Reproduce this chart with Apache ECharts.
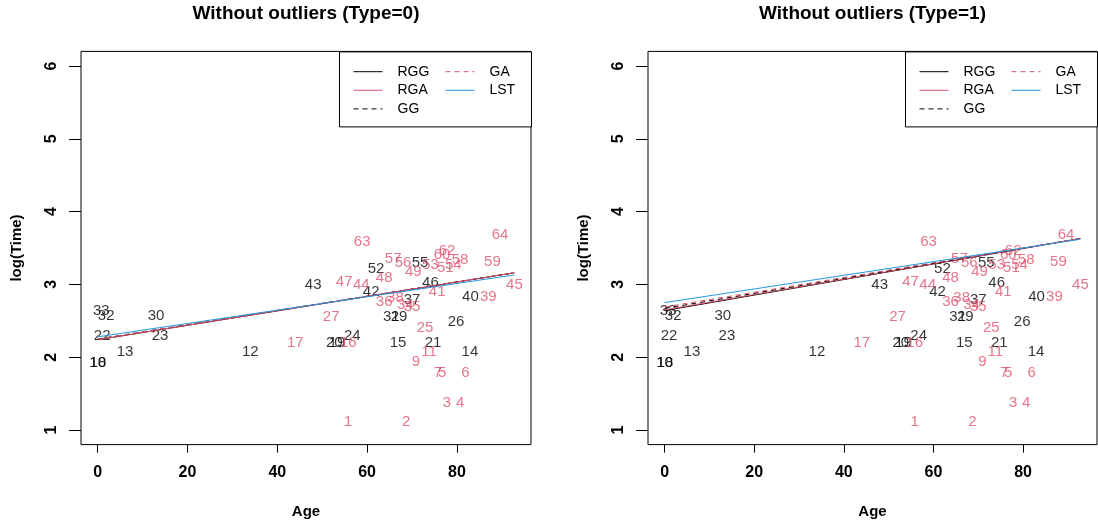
<!DOCTYPE html>
<html>
<head>
<meta charset="utf-8">
<script src="https://cdn.jsdelivr.net/npm/echarts@6/dist/echarts.min.js"></script>
<style>html,body{margin:0;padding:0;background:#fff}#c{width:1098px;height:527px}</style>
</head>
<body>
<div id="c"></div>
<script>
// ---- data ----
const ids = [1,2,3,4,5,6,7,9,10,11,12,13,14,15,16,17,18,19,20,21,22,23,24,25,26,27,29,30,31,32,33,34,35,36,37,38,39,40,41,42,43,44,45,46,47,48,49,51,52,53,54,55,56,57,58,59,60,62,63,64];
const ages = [55.8,68.7,77.8,80.7,76.7,81.9,75.8,70.9,0.0,73.8,34.0,6.1,82.9,66.9,55.8,44.0,0.1,53.3,52.7,74.7,1.0,13.9,56.7,72.9,79.8,52.0,67.1,13.0,65.4,1.9,0.8,68.5,70.0,63.8,70.0,66.3,87.0,83.0,75.6,60.9,48.0,58.7,92.8,74.1,54.9,63.8,70.3,77.4,62.0,74.1,79.2,71.8,68.0,65.8,80.7,87.9,76.7,77.8,58.9,89.6];
const logTimes = [1.11,1.11,1.38,1.38,1.78,1.78,1.78,1.93,1.92,2.07,2.07,2.07,2.07,2.20,2.20,2.20,1.92,2.20,2.20,2.20,2.29,2.29,2.29,2.40,2.48,2.55,2.55,2.57,2.55,2.57,2.63,2.72,2.69,2.76,2.79,2.82,2.83,2.83,2.90,2.90,2.99,2.99,2.99,3.02,3.03,3.09,3.17,3.23,3.21,3.27,3.27,3.29,3.29,3.35,3.34,3.31,3.40,3.46,3.58,3.68];
const blackIds = [10,12,13,14,15,18,19,20,21,22,23,24,26,29,30,31,32,33,37,40,42,43,46,52,55];

const panelTitles = ['Without outliers (Type=0)', 'Without outliers (Type=1)'];
const fitNames = ['RGG','RGA','GG','GA','LST'];
const fitAgeRange = [0, 92.8];
// fitted log(Time) at the ends of the age range, per panel
const fitType0 = { RGG:[2.24,3.16], RGA:[2.24,3.16], GG:[2.25,3.16], GA:[2.25,3.16], LST:[2.28,3.13] };
const fitType1 = { RGG:[2.64,3.63], RGA:[2.65,3.63], GG:[2.67,3.63], GA:[2.69,3.63], LST:[2.75,3.62] };
const xTicks = [0,20,40,60,80];
const yTicks = [1,2,3,4,5,6];

// ---- styling ----
const RED = '#DF536B', BLUE = '#2297E6', FONT = 'Liberation Sans, Arial, Helvetica, sans-serif';
const fitStyle = {
  RGG: {color:'#000', type:'solid'},
  RGA: {color:RED, type:'solid'},
  GG:  {color:'#000', type:[5,4]},
  GA:  {color:RED, type:[5,4]},
  LST: {color:BLUE, type:'solid'}
};

const pts = ids.map((id,i)=>({id, age:ages[i], lt:logTimes[i], black: blackIds.includes(id)}));

const grids = [
  {left:81, top:51.4, width:450, height:393.2},
  {left:648, top:51.4, width:449, height:393.2}
];

const option = {
  animation:false,
  backgroundColor:'#fff',
  title: panelTitles.map((t,k)=>({
    text:t, left: grids[k].left + grids[k].width/2, top:4, padding:0, textAlign:'center',
    textStyle:{fontFamily:FONT, fontWeight:'bold', fontSize:19, color:'#000'}
  })),
  grid: grids.map(g=>Object.assign({show:true, borderColor:'#000', borderWidth:1, backgroundColor:'transparent'}, g)),
  xAxis: grids.map((g,k)=>({
    type:'value', gridIndex:k, min:-3.71, max:96.5,
    name:'Age', nameLocation:'middle', nameGap:60,
    nameTextStyle:{fontFamily:FONT, fontWeight:'bold', fontSize:15, color:'#000'},
    axisLine:{show:false, onZero:false}, splitLine:{show:false},
    axisTick:{show:true, inside:false, length:8, customValues:xTicks, lineStyle:{color:'#000'}},
    axisLabel:{show:true, customValues:xTicks, margin:20, fontFamily:FONT, fontWeight:'bold', fontSize:16, color:'#000'}
  })),
  yAxis: grids.map((g,k)=>({
    type:'value', gridIndex:k, min:0.8, max:6.2,
    name:'log(Time)', nameLocation:'middle', nameGap:57,
    nameTextStyle:{fontFamily:FONT, fontWeight:'bold', fontSize:15, color:'#000'},
    axisLine:{show:false, onZero:false}, splitLine:{show:false},
    axisTick:{show:true, inside:false, length:12, customValues:yTicks, lineStyle:{color:'#000'}},
    axisLabel:{show:true, customValues:yTicks, rotate:90, margin:21, fontFamily:FONT, fontWeight:'bold', fontSize:16, color:'#000'}
  })),
  legend: [],
  graphic: grids.map(g=>({
    type:'rect', z:1, silent:true,
    shape:{x: g.left + g.width - 192 + 0.5, y:51.9, width:192, height:75},
    style:{fill:'#fff', stroke:'#000', lineWidth:1}
  })),
  series: []
};

const legendCols = [['RGG','RGA','GG'], ['GA','LST']];
grids.forEach((g,k)=>{
  const boxLeft = g.left + g.width - 192;
  [14, 106].forEach((dx,c)=>{
    option.legend.push({
      data: legendCols[c], orient:'vertical', left: boxLeft + dx, top:64.7, padding:0,
      itemWidth:29, itemHeight:14, itemGap:4.6, selectedMode:false, z:5,
      itemStyle:{color:'rgba(0,0,0,0)', borderWidth:0, opacity:0},
      lineStyle:{width:1},
      textStyle:{fontFamily:FONT, fontSize:14, color:'#000', lineHeight:14, padding:[0,0,0,10]}
    });
  });
});

[fitType0, fitType1].forEach((fits,k)=>{
  // text labels
  [true,false].forEach(isBlack=>{
    option.series.push({
      type:'scatter', name:(isBlack?'cens':'event')+k, xAxisIndex:k, yAxisIndex:k,
      symbolSize:1, itemStyle:{color:'rgba(0,0,0,0)'}, silent:true, z:2,
      data: pts.filter(p=>p.black===isBlack).map(p=>({value:[p.age,p.lt], name:String(p.id)})),
      label:{show:true, position:'inside', formatter:p=>p.name, fontFamily:FONT, fontSize:15,
             color: isBlack ? '#000' : RED},
      labelLayout:{hideOverlap:false}
    });
  });
  fitNames.forEach(n=>{
    option.series.push({
      type:'line', name:n, xAxisIndex:k, yAxisIndex:k, symbol:'none', silent:true, z:3,
      color: fitStyle[n].color,
      lineStyle:{color:fitStyle[n].color, type:fitStyle[n].type, width:1},
      data: [[fitAgeRange[0], fits[n][0]], [fitAgeRange[1], fits[n][1]]]
    });
  });
});

const chart = echarts.init(document.getElementById('c'), null, {renderer:'canvas'});
chart.setOption(option);
</script>
</body>
</html>
